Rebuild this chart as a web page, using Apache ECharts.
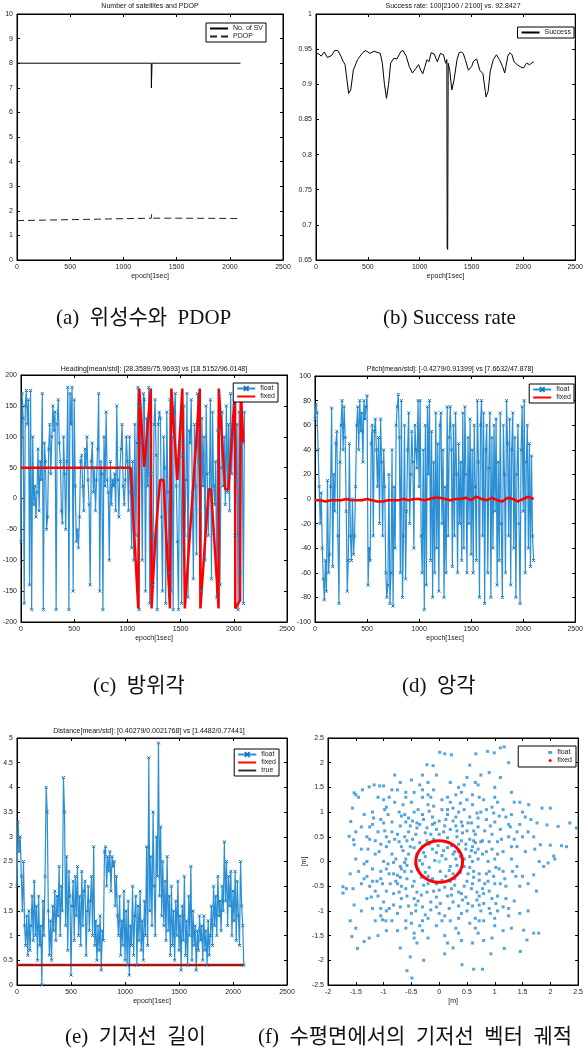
<!DOCTYPE html>
<html>
<head>
<meta charset="utf-8">
<script src="https://cdn.jsdelivr.net/npm/echarts@6/dist/echarts.min.js"></script>
<style>
html, body { margin: 0; padding: 0; background: #fff; }
#main { width: 586px; height: 1054px; }
</style>
</head>
<body>
<div id="main"></div>
<script>
// (a) 위성수와 PDOP
var svEpoch = [0, 1262, 1263, 1268, 1269, 2100];
var svCount = [8, 8, 7, 7, 8, 8];
var pdopEpoch = [0, 500, 1000, 1262, 1265, 1268, 1500, 2000, 2100];
var pdopVal = [1.6, 1.64, 1.68, 1.7, 1.85, 1.7, 1.7, 1.69, 1.68];

// (b) success rate
var succEpoch = [0, 30, 50, 80, 110, 150, 180, 210, 240, 260, 280, 300, 315, 335, 360, 400, 450, 480, 520, 560,
  600, 620, 640, 660, 680, 700, 720, 750, 780, 820, 840, 870, 900, 930, 960, 990, 1010, 1030, 1050, 1070,
  1090, 1110, 1140, 1170, 1200, 1230, 1250, 1262, 1265, 1270, 1275, 1290, 1310, 1330, 1360, 1380, 1400, 1420, 1440, 1470,
  1500, 1520, 1550, 1580, 1610, 1640, 1660, 1680, 1710, 1740, 1770, 1800, 1820, 1850, 1870, 1890, 1910, 1940, 1970, 2000,
  2030, 2060, 2080, 2100];
var succVal = [0.944, 0.943, 0.94, 0.946, 0.938, 0.941, 0.948, 0.948, 0.94, 0.933, 0.928, 0.905, 0.887, 0.892, 0.92, 0.935, 0.945, 0.948, 0.944, 0.947,
  0.945, 0.944, 0.93, 0.9, 0.88, 0.9, 0.93, 0.937, 0.936, 0.947, 0.948, 0.94, 0.925, 0.916, 0.922, 0.928, 0.92, 0.915, 0.925, 0.935,
  0.932, 0.945, 0.943, 0.932, 0.944, 0.942, 0.93, 0.935, 0.668, 0.665, 0.93, 0.92, 0.892, 0.905, 0.935, 0.945, 0.946, 0.944, 0.935, 0.92,
  0.925, 0.933, 0.936, 0.92, 0.915, 0.882, 0.89, 0.918, 0.935, 0.942, 0.935, 0.925, 0.916, 0.94, 0.945, 0.942, 0.932, 0.928, 0.925, 0.923,
  0.93, 0.928, 0.93, 0.932];

// (c) heading, float every 10 epochs
var headFloat = [
  -70, 170, 130, -170, 150, 175, 120, 160, -140, 175,
  -180, 100, -10, 20, -30, 10, 80, -20, 60, 30,
  170, -180, 90, 60, -50, -30, 80, 120, 40, 100,
  150, 110, 140, -180, 120, 160, 90, 60, -20, -40,
  100, 40, -50, 60, 180, -180, 170, 120, 180, -150,
  160, 20, -70, -50, -80, -30, 60, 70, 20, -20,
  80, 50, 100, 30, -10, -140, 60, 90, 10, 50,
  -20, 30, 80, 170, -150, 60, 40, -180, 100, 20,
  140, 30, 10, -100, 60, -10, 30, 20, 40, -20,
  150, 30, -30, 50, 80, 120, 20, -10, 30, 100,
  60, -20, 100, 10, -80, 60, -100, 120, -60, 90,
  180, -180, 150, 90, -100, 170, 160, -150, 130, 20,
  180, -170, 40, -60, -140, 120, 160, 70, -180, 120,
  140, 130, -30, -150, 100, 50, -170, 140, 10, -120,
  160, -150, 100, -180, 140, 170, 20, -70, -180, 90,
  120, -170, 70, 150, -60, 30, 170, -160, 110, 90,
  160, 10, -130, 120, 20, -90, 170, 60, -20, -150,
  130, 20, 100, -100, 150, 40, -60, 10, 160, -130,
  140, 20, -10, 60, -160, 110, 170, -140, 50, 140,
  20, 100, -10, 150, 10, 120, -20, 170, 40, 100,
  150, -60, 30, 120, -180, 140, -120, 170, 90, -170,
  140];
var headFixedEpoch = [0, 1030, 1102, 1112, 1158, 1174, 1220, 1227, 1265, 1307, 1339, 1400, 1413, 1469, 1484, 1516, 1540,
  1680, 1686, 1764, 1786, 1857, 1859, 1919, 1950, 2012, 2014, 2059, 2065, 2090];
var headFixedVal = [50, 50, -178, 178, 51, 51, 178, -178, -57, 30, 30, -178, 178, 30, 30, 178, -178,
  178, -178, 15, 15, -178, 178, 15, 15, 178, -178, -165, 178, 90];

// (d) pitch, float every 10 epochs
var pitchFloat = [
  65, 77, 70, 40, 10, -20, 5, -40, -65, -82,
  -50, -75, 15, -60, -45, 10, 74, -55, 20, -10,
  45, 55, -30, -85, 30, 60, 80, 40, 75, 50,
  -10, -75, -50, 45, -30, -50, 0, -45, -30, 10,
  60, 75, 40, 80, 55, 70, 30, 80, 65, 75,
  84, -70, -40, -50, 45, 60, -30, 55, 65, 40,
  10, 50, -20, 65, 30, -30, 40, 10, -60, -80,
  -70, 20, -85, -60, 40, -87, 10, -40, 60, 75,
  85, 50, -60, 80, -80, -30, 60, -65, -10, 40,
  70, -20, 20, 55, 30, -40, 60, 40, 25, 80,
  10, 80, -30, -60, 40, -90, 60, -70, 75, 20,
  80, -50, 55, -80, 30, -60, 70, -40, 45, -75,
  60, 70, -20, 40, -80, 10, -60, 75, -30, 50,
  75, 40, -55, 60, -30, 70, 20, -60, 45, -20,
  30, -50, 70, -40, 75, 20, -60, 50, -20, 65,
  -45, 40, -60, 60, 10, -50, 80, 30, -80, 60,
  80, -30, 70, -85, 40, 60, -60, 25, 70, -80,
  50, -40, 60, -10, 65, -70, 30, -50, 70, -20,
  -80, 60, 20, -60, 80, 45, -30, 65, -70, 40,
  70, -40, 50, -80, 20, 60, -20, -85, 40, 75,
  -10, 80, -60, 30, 60, -40, 45, -55, 35, -30,
  -50];
var pitchFixed = [-1, -1, -2, -1, -1, -1, 0, -1, -1, -1, 0, -1, -2, -2, -1, -1, -1, 0, -1, 0, 0,
  -1, 0, 1, 1, 0, -1, 0, 0, 1, -1, 2, 0, -1, 1, -1, -2, 1, 0, -2, 0, 2, 0];

// (e) distance, float every 10 epochs
var distFloat = [
  2.0, 3.3, 2.7, 3.0, 2.2, 1.5, 2.5, 1.2, 0.8, 1.4,
  0.6, 1.5, 0.7, 1.2, 1.8, 0.9, 2.1, 1.0, 1.6, 0.5,
  1.8, 0.8, 1.2, 0.0, 1.7, 1.0, 2.2, 4.0, 3.5, 1.5,
  0.6, 1.3, 0.5, 1.6, 1.1, 1.9, 0.9, 1.8, 1.4, 2.4,
  1.0, 2.0, 1.5, 4.2, 3.5, 1.2, 2.6, 0.7, 2.3, 1.8,
  0.2, 1.6, 2.1, 0.9, 2.2, 1.4, 2.4, 1.0, 1.8, 0.8,
  2.3, 1.2, 1.9, 2.1, 0.6, 1.5, 2.0, 1.1, 1.7, 2.2,
  1.0, 2.8, 0.8, 1.3, 0.5, 1.2, 0.7, 1.4, 0.3, 1.1,
  0.9, 2.7, 2.8, 2.0, 2.6, 2.3, 2.7, 1.9, 2.6, 2.4,
  2.5, 1.6, 2.2, 1.4, 1.0, 1.8, 0.6, 1.3, 0.8, 1.9,
  0.5, 1.5, 0.4, 1.7, 0.2, 1.2, 0.8, 2.0, 0.6, 1.4,
  1.8, 0.4, 1.6, 0.9, 1.9, 0.7, 1.3, 0.5, 1.7, 1.0,
  2.8, 0.8, 4.6, 1.5, 2.6, 1.2, 3.5, 2.0, 1.0, 3.0,
  2.2, 4.9, 1.8, 3.2, 1.4, 2.5, 1.2, 2.1, 0.9, 2.6,
  1.1, 1.8, 0.6, 2.0, 0.8, 1.5, 0.5, 1.7, 1.0, 2.1,
  0.7, 1.4, 0.3, 1.6, 0.9, 2.2, 0.6, 1.3, 0.4, 1.8,
  1.0, 2.4, 0.5, 1.5, 0.8, 1.2, 0.3, 1.1, 0.7, 1.4,
  0.9, 1.2, 0.5, 1.4, 0.7, 1.1, 0.4, 1.3, 0.6, 1.0,
  1.6, 0.8, 2.0, 1.2, 1.8, 1.0, 2.2, 1.4, 1.7, 1.1,
  2.0, 1.5, 2.9, 1.7, 2.5, 1.2, 2.2, 1.6, 2.3, 1.0,
  1.9, 1.3, 2.3, 0.9, 2.1, 1.4, 0.8, 2.5, 1.6, 1.2,
  0.4];
var distFixedEpoch = [0, 2100];
var distFixedVal = [0.403, 0.403];
var distTrueVal = [0.4, 0.4];

// (f) horizontal baseline vector [m]
var planeFloat = [
  [0.05,0.12],[-0.12,0.25],[0.2,-0.1],[-0.3,-0.05],[0.35,0.2],[-0.2,-0.3],[0.1,0.4],[-0.4,0.15],[0.28,-0.35],[0.45,-0.1],
  [-0.05,-0.45],[0.15,0.28],[-0.35,0.38],[0.4,0.42],[-0.5,-0.2],[0.55,0.1],[-0.15,0.55],[0.22,-0.55],[-0.28,-0.48],[0.5,-0.4],
  [0.02,-0.2],[-0.08,0.02],[0.12,-0.3],[-0.25,0.1],[0.3,0.05],[-0.45,-0.4],[0.6,0.3],[-0.6,0.05],[0.08,0.6],[-0.1,-0.6],
  [0.32,0.5],[-0.38,-0.15],[0.48,0.25],[-0.22,0.42],[0.18,-0.18],[-0.52,0.3],[0.38,-0.22],[-0.02,0.32],[0.25,0.15],[-0.32,-0.32],
  [0.62,-0.2],[-0.58,-0.35],[0.42,0.58],[-0.42,0.55],[0.05,-0.38],[-0.18,-0.12],[0.28,-0.48],[-0.48,0.45],[0.55,0.45],[0.15,0.48],
  [0.7,0.05],[-0.7,-0.1],[0.1,0.72],[-0.05,-0.72],[0.5,0.62],[-0.55,0.6],[0.58,-0.55],[-0.6,-0.55],[0.35,0.35],[-0.3,0.3],
  [0.25,-0.25],[-0.12,-0.35],[0.45,0.05],[-0.35,0.02],[0.08,0.22],[-0.1,0.45],[0.32,-0.08],[-0.25,-0.22],[0.65,0.18],[-0.65,0.22],
  [0.2,0.65],[-0.22,0.68],[0.4,-0.65],[-0.4,-0.62],[0.72,-0.38],[-0.75,-0.28],[0.75,0.4],[-0.72,0.4],[0.0,0.82],[0.02,-0.85],
  [0.85,0.2],[-0.85,0.15],[0.9,-0.2],[-0.9,-0.25],[0.3,0.9],[-0.3,0.95],[0.35,-0.9],[-0.3,-0.92],[0.7,0.7],[-0.7,0.72],
  [0.72,-0.7],[-0.68,-0.75],[1.0,0.05],[-1.0,0.0],[0.05,1.05],[0.0,-1.05],[1.05,0.4],[-1.05,0.35],[1.0,-0.45],[-1.02,-0.45],
  [0.45,1.05],[-0.45,1.0],[0.5,-1.0],[-0.5,-1.05],[0.85,0.85],[-0.85,0.8],[0.8,-0.85],[-0.82,-0.88],[1.15,0.2],[-1.15,0.15],
  [1.15,-0.2],[-1.2,-0.15],[0.2,1.2],[-0.2,1.15],[0.2,-1.2],[-0.2,-1.15],[1.1,0.65],[-1.1,0.6],[1.05,-0.7],[-1.1,-0.7],
  [0.6,1.15],[-0.65,1.15],[0.65,-1.15],[-0.6,-1.2],[0.95,0.55],[-0.95,0.5],[0.9,-0.6],[-0.95,-0.6],[0.55,0.9],[-0.55,0.88],
  [0.6,-0.9],[-0.55,-0.9],[1.25,0.5],[-1.25,0.45],[1.2,-0.5],[-1.25,-0.5],[0.8,1.25],[-0.8,1.2],[0.8,-1.2],[-0.85,-1.2],
  [0.15,0.95],[-0.12,0.9],[0.18,-0.95],[-0.15,-0.98],[0.95,0.25],[-0.95,0.3],[0.98,-0.3],[-0.92,-0.05],[1.3,0.05],[-1.3,0.0],
  [0.4,0.8],[-0.4,0.78],[0.42,-0.78],[-0.38,-0.8],[0.78,0.42],[-0.8,0.45],[0.82,-0.45],[-0.78,-0.4],[1.2,0.9],[-1.18,0.88],
  [1.15,-0.92],[-1.2,-0.95],[0.95,1.1],[-0.98,1.05],[0.92,-1.05],[-0.95,-1.0],[0.3,1.35],[-0.3,1.3],[0.3,-1.35],[-0.35,-1.3],
  [1.4,0.3],[-1.4,0.25],[1.38,-0.3],[-1.35,-0.35],[0.65,0.55],[-0.62,0.5],[0.6,-0.45],[-0.68,-0.5],[0.88,0.0],[-0.82,-0.02],
  [1.17,2.32],[1.1,2.3],[0.01,2.21],[0.1,2.18],[0.22,2.16],[0.66,2.18],[0.87,2.23],[0.99,2.2],[-0.22,1.96],[-0.11,1.94],
  [-1.53,1.39],[-1.5,1.35],[-1.38,1.45],[-1.26,1.51],[-1.17,1.55],[-1.07,1.53],[-1.0,1.53],[-1.56,1.08],[-1.59,0.81],[-1.62,0.51],
  [-1.54,0.44],[-1.53,0.34],[-1.73,-0.51],[-1.73,-0.64],[-1.67,-0.55],[-1.53,-0.88],[-1.5,-1.35],[-1.57,-1.52],[-1.47,-1.76],[-1.35,-1.62],
  [-1.26,-1.55],[-1.02,-1.18],[-0.96,-1.2],[-0.52,-1.93],[-0.58,-2.21],[-0.49,-2.36],[-0.28,-2.0],[0.1,-1.87],[0.41,-2.09],[0.78,-2.18],
  [0.62,-2.18],[0.93,-1.87],[1.17,-1.76],[1.46,-1.82],[1.58,-1.59],[1.7,-1.45],[1.79,-1.45],[1.52,-1.39],[1.61,1.15],[1.85,1.08],
  [2.0,1.08],[1.76,0.78],[1.94,0.74],[2.14,0.71],[2.35,0.78],[2.47,0.68],[1.82,0.34],[2.0,0.33],[2.2,0.32],[2.29,0.3],
  [2.06,0.11],[2.08,0.05],[1.88,-0.1],[1.96,-0.03],[1.7,-0.27],
  [0.5,1.7],[-0.5,1.65],[0.7,1.55],[-0.7,1.6],[1.0,1.5],[-0.3,1.75],[0.2,1.6],[-0.1,1.45],[0.9,1.8],[1.3,1.4],
  [1.5,1.0],[1.6,0.6],[1.55,0.2],[1.45,-0.5],[1.35,-0.8],[1.25,-1.1],[1.0,-1.3],[0.7,-1.45],[0.4,-1.6],[0.1,-1.5],
  [-0.2,-1.55],[-0.45,-1.45],[-0.75,-1.4],[-1.05,-0.95],[-1.3,-0.75],[-1.45,-0.2],[-1.4,0.7],[-1.2,1.0],[-0.9,1.3],[-0.6,1.4],
  [1.1,1.7],[1.25,2.0],[0.55,1.95],[-0.05,1.75],[-0.8,1.75],[-1.45,1.3],[-1.6,-0.25],[-1.6,-1.2],[-1.1,-1.5],[-0.7,-1.75],
  [0.25,-1.75],[0.6,-1.65],[0.95,-1.55],[1.3,-1.35],[1.6,-1.0],[1.75,-0.6],[1.8,0.0],[1.7,0.5],[1.55,0.9],[1.35,1.2],
  [0.4,1.4],[-0.35,1.55],[-0.95,1.1],[-1.3,0.5],[-1.35,-0.05],[-1.2,-0.4],[1.25,0.75],[1.05,1.2],[-1.05,0.85],[0.15,1.3],
  [0.12,0.05],[-0.05,0.18],[0.22,0.32],[-0.18,0.35],[0.38,0.1],[-0.42,-0.05],[0.1,-0.52],[-0.22,-0.62],[0.52,-0.25],[-0.55,0.15],
  [0.65,0.38],[-0.62,-0.2],[0.3,0.72],[-0.35,0.75],[0.45,-0.5],[-0.48,-0.5],[0.78,0.15],[-0.78,0.05],[0.12,0.85],[-0.15,-0.82],
  [0.68,-0.62],[-0.72,-0.62],[0.58,0.78],[-0.6,0.8],[0.9,0.4],[-0.9,0.4],[0.88,-0.4],[-0.88,-0.45],[0.35,1.0],[-0.38,1.05],
  [0.4,-1.05],[-0.42,-1.0],[1.05,0.15],[-1.08,0.2],[1.08,-0.15],[-1.05,-0.2],[0.25,1.08],[-0.1,1.12],[0.1,-1.1],[-0.25,-1.08],
  [0.75,1.0],[-0.72,1.0],[0.75,-1.0],[-0.75,-1.05],[1.0,0.8],[-1.0,0.78],[1.02,-0.85],[-1.0,-0.82],[0.48,0.35],[-0.45,0.28],
  [0.55,-0.12],[-0.58,-0.08],[0.15,-0.7],[-0.05,0.65],[0.62,0.62],[-0.25,0.58],[0.35,-0.62],[0.82,0.62],[-0.85,0.6],[0.8,-0.65],
  [-0.82,-0.65],[1.12,0.45],[-1.15,0.42],[1.1,-0.45],[-1.12,-0.4],[0.5,1.25],[-0.5,1.2],[0.55,-1.25],[-0.5,-1.25],[1.3,0.3],
  [-1.28,0.25],[1.32,-0.2],[-1.3,-0.3],[0.05,1.25],[-0.05,-1.3],[1.28,0.7],[-1.25,0.7],[1.2,-0.75],[-1.22,-0.72],[0.7,0.88],
  [-0.68,0.92],[0.72,-0.88],[-0.7,-0.92],[0.98,0.98],[-0.92,0.95],[0.9,-0.95],[-0.9,-0.95],[0.28,0.2],[-0.28,0.18],[0.2,-0.4],
  [-0.2,-0.45],[0.6,0.0],[-0.62,-0.02],[0.0,0.55],[0.0,-0.58],[0.42,0.72],[-0.4,0.68],[0.48,-0.72],[-0.45,-0.75],[0.7,0.25],
  [-0.68,0.3],[0.72,-0.25],[-0.7,-0.32],[1.5,0.5],[1.45,0.75],[1.4,-0.1],[1.5,-0.3],[1.3,0.95],[1.25,-0.95],[0.6,1.35],
  [-0.6,1.3],[0.65,-1.35],[-0.6,-1.35],[1.0,1.3],[-1.0,1.25],[1.0,-1.15],[-1.05,-1.1],[0.35,1.5],[-0.3,1.45],[0.35,-1.45],
  [-0.3,-1.4],[1.45,1.2],[1.65,0.85],[1.72,0.25],[1.6,-0.45],[1.45,-1.05],[1.15,-1.4],[0.8,-1.6],[0.15,-1.65],[-0.4,-1.65],
  [-0.95,-1.4],[-1.4,-1.0],[-1.55,-0.55],[-1.5,0.05],[-1.5,0.6],[-1.35,0.95],[-1.1,1.3],[-0.75,1.45],[-0.2,1.6],[0.75,1.75],
  [0.52,0.78],[0.68,0.98],[0.85,1.05],[0.25,0.82],[0.62,0.42],[0.92,0.72],[1.08,0.92],[0.38,1.18],[0.15,1.05],[-0.08,0.78],
  [-0.28,0.85],[-0.52,0.72],[-0.75,0.55],[-0.98,0.62],[-0.62,0.95],[-0.18,1.02],[0.72,1.3],[0.45,1.55],[-0.45,1.4],[-0.15,1.3],
  [0.85,-0.25],[1.02,-0.12],[1.18,-0.35],[0.95,-0.75],[0.68,-0.78],[0.52,-0.85],[0.25,-0.82],[-0.05,-0.92],[-0.32,-0.68],[-0.58,-0.7],
  [-0.82,-0.25],[-1.05,-0.35],[-0.95,-0.15],[-0.68,-0.15],[-1.15,-0.6],[-0.3,-1.2],[0.05,-1.2],[0.35,-1.15],[0.72,-1.2],[1.05,-1.0],
  [0.32,0.62],[-0.48,0.82],[0.62,-0.32],[-0.42,-0.88],[0.58,0.22],[-0.58,0.42],[0.22,-0.68],[-0.12,0.75],[0.78,-0.55],[-0.75,-0.45],
  [1.35,0.45],[1.4,0.6],[1.15,1.05],[0.65,1.6],[-0.2,1.35],[-0.85,1.45],[-1.2,0.75],[-1.4,-0.45],[-1.15,-1.2],[-0.45,-1.55]
];
var planeFixed = [
  [0.42,0],[0.414,0.073],[0.395,0.144],[0.364,0.21],[0.322,0.27],[0.27,0.322],[0.21,0.364],[0.144,0.395],[0.073,0.414],
  [0,0.42],[-0.073,0.414],[-0.144,0.395],[-0.21,0.364],[-0.27,0.322],[-0.322,0.27],[-0.364,0.21],[-0.395,0.144],[-0.414,0.073],
  [-0.42,0],[-0.414,-0.073],[-0.395,-0.144],[-0.364,-0.21],[-0.322,-0.27],[-0.27,-0.322],[-0.21,-0.364],[-0.144,-0.395],[-0.073,-0.414],
  [0,-0.42],[0.073,-0.414],[0.144,-0.395],[0.21,-0.364],[0.27,-0.322],[0.322,-0.27],[0.364,-0.21],[0.395,-0.144],[0.414,-0.073],[0.42,0]
];
var planeTrue = [[0, 0]];

var FONT = 'Liberation Sans';
var BLUE = '#2a8fd4';
var BLUE_DARK = '#1477c0';
var RED = '#ff0000';

function zip(xs, ys) {
  return xs.map(function (x, i) { return [x, ys[i]]; });
}
function every10(vals) {
  return vals.map(function (v, i) { return [i * 10, v]; });
}

var grids = [
  { left: 17, top: 14, width: 266, height: 246 },
  { left: 316, top: 14, width: 264, height: 246 },
  { left: 19, top: 375, width: 268, height: 247 },
  { left: 315, top: 376, width: 265, height: 246 },
  { left: 17, top: 738, width: 270, height: 247 },
  { left: 328, top: 738, width: 253, height: 247 }
];
var xRanges = [[0, 2500, 500], [0, 2500, 500], [0, 2500, 500], [0, 2500, 500], [0, 2500, 500], [-2, 2.5, 0.5]];
var yRanges = [[0, 10, 1], [0.65, 1, 0.05], [-200, 200, 50], [-100, 100, 20], [0, 5, 0.5], [-2.5, 2.5, 0.5]];
var xNames = ['epoch[1sec]', 'epoch[1sec]', 'epoch[1sec]', 'epoch[1sec]', 'epoch[1sec]', '[m]'];

function plainNum(v) { return String(+v.toFixed(4)); }

var xAxes = [], yAxes = [];
grids.forEach(function (g, i) {
  var axisCommon = {
    gridIndex: i, type: 'value',
    splitLine: { show: false },
    axisLine: { show: true, onZero: false, lineStyle: { color: '#000', width: 1 } },
    axisTick: { inside: true, length: 3, lineStyle: { color: '#000' } }
  };
  var lbl = { fontSize: 7, color: '#222', fontFamily: FONT, margin: 4, formatter: plainNum };
  xAxes.push(Object.assign({}, axisCommon, {
    position: 'bottom', min: xRanges[i][0], max: xRanges[i][1], interval: xRanges[i][2],
    name: xNames[i], nameLocation: 'middle', nameGap: 13,
    nameTextStyle: { fontSize: 7, color: '#222', fontFamily: FONT },
    axisLabel: lbl
  }));
  xAxes.push(Object.assign({}, axisCommon, {
    position: 'top', min: xRanges[i][0], max: xRanges[i][1], interval: xRanges[i][2],
    axisLabel: { show: false }
  }));
  yAxes.push(Object.assign({}, axisCommon, {
    position: 'left', min: yRanges[i][0], max: yRanges[i][1], interval: yRanges[i][2],
    name: i === 5 ? '[m]' : '', nameLocation: 'middle', nameGap: 16, nameRotate: 90,
    nameTextStyle: { fontSize: 7, color: '#222', fontFamily: FONT },
    axisLabel: lbl
  }));
  yAxes.push(Object.assign({}, axisCommon, {
    position: 'right', min: yRanges[i][0], max: yRanges[i][1], interval: yRanges[i][2],
    axisLabel: { show: false }
  }));
});

function ax(i) { return { xAxisIndex: 2 * i, yAxisIndex: 2 * i }; }

var xMark = 'path://M0,0L10,10M10,0L0,10';
function floatLine(name, i, data) {
  return Object.assign({
    name: name, type: 'line', data: data,
    symbol: xMark, symbolSize: 3, showSymbol: true,
    lineStyle: { color: BLUE, width: 1.2 },
    itemStyle: { color: BLUE_DARK, borderColor: BLUE_DARK, borderWidth: 1 }
  }, ax(i));
}
function plainLine(name, i, data, color, width, type) {
  return Object.assign({
    name: name, type: 'line', data: data, symbol: 'none',
    lineStyle: { color: color, width: width, type: type || 'solid' },
    itemStyle: { color: color }
  }, ax(i));
}

var ZW = '\u200b';
var series = [
  plainLine('No. of SV', 0, zip(svEpoch, svCount), '#000', 1),
  plainLine('PDOP', 0, zip(pdopEpoch, pdopVal), '#222', 1, [7, 4]),
  plainLine('Success', 1, zip(succEpoch, succVal), '#000', 1),
  floatLine('float', 2, every10(headFloat)),
  plainLine('fixed', 2, zip(headFixedEpoch, headFixedVal), RED, 2.5),
  floatLine('float' + ZW, 3, every10(pitchFloat)),
  plainLine('fixed' + ZW, 3, pitchFixed.map(function (v, k) { return [k * 50, v]; }), RED, 2.5),
  floatLine('float' + ZW + ZW, 4, every10(distFloat)),
  plainLine('fixed' + ZW + ZW, 4, zip(distFixedEpoch, distFixedVal), RED, 2.5),
  plainLine('true', 4, zip(distFixedEpoch, distTrueVal), '#333', 1),
  Object.assign({
    name: 'float' + ZW + ZW + ZW, type: 'scatter', data: planeFloat,
    symbol: 'rect', symbolSize: 3, itemStyle: { color: BLUE }
  }, ax(5)),
  Object.assign({
    name: 'fixed' + ZW + ZW + ZW, type: 'line', data: planeFixed, smooth: true, symbol: 'none',
    lineStyle: { color: RED, width: 3 }, itemStyle: { color: RED }
  }, ax(5)),
  Object.assign({
    name: 'center', type: 'scatter', data: planeTrue, symbol: 'circle', symbolSize: 4,
    itemStyle: { color: '#40e0e0' }
  }, ax(5))
];

// line-only legend entries: hide the symbol dot
function lineItem(name) { return { name: name, itemStyle: { opacity: 0 } }; }

function legendBox(items, right, top) {
  return {
    data: items, orient: 'vertical', right: right, top: top,
    padding: [2, 3, 2, 3], itemGap: 1, itemWidth: 18, itemHeight: 6,
    borderColor: '#000', borderWidth: 1, backgroundColor: '#fff', borderRadius: 0,
    selectedMode: false,
    textStyle: { fontSize: 7, color: '#222', fontFamily: FONT, padding: [0, 0, 0, 0] }
  };
}
var legends = [
  legendBox([lineItem('No. of SV'), lineItem('PDOP')], 320, 23),
  legendBox([lineItem('Success')], 12, 27),
  legendBox(['float', lineItem('fixed')], 308, 383),
  legendBox(['float' + ZW, lineItem('fixed' + ZW)], 12, 384),
  legendBox(['float' + ZW + ZW, lineItem('fixed' + ZW + ZW), lineItem('true')], 307, 749),
  legendBox([{ name: 'float' + ZW + ZW + ZW, icon: 'rect' }, { name: 'fixed' + ZW + ZW + ZW, icon: 'circle' }], 10, 746)
];
legends[5].itemWidth = 4;
legends[5].itemHeight = 3;
legends[5].padding = [3, 4, 3, 30];

function txt(s, x, y, size, family, align) {
  return {
    type: 'text', x: x, y: y, silent: true,
    style: {
      text: s, fill: '#111', font: size + 'px ' + family,
      textAlign: align || 'center', textVerticalAlign: 'middle'
    }
  };
}
var titleFont = '"Liberation Sans"';
var capFont = '"Liberation Serif", "Noto Sans CJK KR"';
var graphics = [
  txt('Number of satellites and PDOP', 150, 6, 7, titleFont),
  txt('Success rate: 100[2100 / 2100] vs. 92.8427', 453, 6, 7, titleFont),
  txt('Heading[mean/std]: [28.3589/75.9693] vs [18.5152/96.0148]', 154, 369, 7, titleFont),
  txt('Pitch[mean/std]: [-0.4279/0.91399] vs [7.6632/47.878]', 450, 369, 7, titleFont),
  txt('Distance[mean/std]: [0.40279/0.0021768] vs [1.4482/0.77441]', 149, 731, 7, titleFont),
  txt('(a)  위성수와  PDOP', 56, 318, 21, capFont, 'left'),
  txt('(b) Success rate', 383, 318, 21, capFont, 'left'),
  txt('(c)  방위각', 93, 686, 21, capFont, 'left'),
  txt('(d)  앙각', 402, 686, 21, capFont, 'left'),
  txt('(e)  기저선  길이', 65, 1037, 21, capFont, 'left'),
  txt('(f)  수평면에서의  기저선  벡터  궤적', 258, 1037, 21, capFont, 'left')
];

var myChart = echarts.init(document.getElementById('main'), null, { renderer: 'canvas' });
var option = {
  animation: false,
  backgroundColor: '#fff',
  grid: grids.map(function (g) {
    return Object.assign({ show: true, borderColor: '#000', borderWidth: 1, backgroundColor: 'transparent' }, g);
  }),
  xAxis: xAxes,
  yAxis: yAxes,
  legend: legends,
  series: series,
  graphic: graphics
};
myChart.setOption(option);
</script>
</body>
</html>
